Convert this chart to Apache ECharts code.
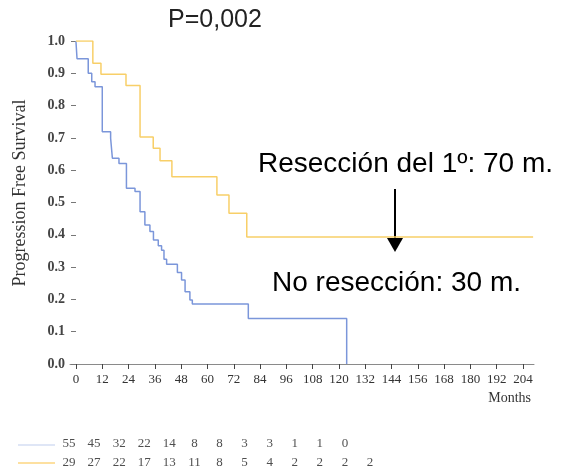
<!DOCTYPE html>
<html><head><meta charset="utf-8">
<script src="https://cdn.jsdelivr.net/npm/echarts@6/dist/echarts.min.js"></script>
<style>html,body{margin:0;padding:0;background:#fff}#c{width:566px;height:469px}</style>
</head><body><div id="c"></div>
<script>
// Kaplan-Meier step points [months, survival]
const noResectionCurve = [[0,1],[0.5,0.945],[5.6,0.90],[7.2,0.874],[8.7,0.858],[12.0,0.719],[15.8,0.699],[16.6,0.637],[19.6,0.621],[23.0,0.544],[26.9,0.534],[29.2,0.471],[31.4,0.43],[33.7,0.41],[35.3,0.384],[37.5,0.366],[39.0,0.352],[40.1,0.324],[41.3,0.309],[46.2,0.283],[48.1,0.26],[49.7,0.224],[51.9,0.198],[53.0,0.186],[78.5,0.141],[123.3,0]];
const resectionCurve = [[0,1],[7.7,0.931],[11.4,0.897],[22.8,0.862],[29.2,0.703],[35.2,0.668],[38.3,0.629],[43.7,0.58],[64.2,0.523],[69.7,0.467],[77.8,0.393],[208.2,0.393]];
const xTicks = [0,12,24,36,48,60,72,84,96,108,120,132,144,156,168,180,192,204];
const yTicks = [0,0.1,0.2,0.3,0.4,0.5,0.6,0.7,0.8,0.9,1.0];
const atRiskNoResection = [55,45,32,22,14,8,8,3,3,1,1,0];
const atRiskResection = [29,27,22,17,13,11,8,5,4,2,2,2,2];
const titleText = 'P=0,002';
const note1 = 'Resección del 1º: 70 m.';
const note2 = 'No resección: 30 m.';
const yName = 'Progression Free Survival';
const xName = 'Months';

const blue = '#7b96da', yellow = '#f8cf68';
const serif = 'Liberation Serif, Times New Roman, serif';
const sans = 'Liberation Sans, Arial, sans-serif';

const chart = echarts.init(document.getElementById('c'), null, {renderer:'canvas'});
function riskData(arr,row){return arr.map((v,i)=>[i,row,v]);}
const riskLabel = {show:true,position:'inside',formatter:p=>String(p.data[2]),fontFamily:serif,fontSize:13,color:'#222'};
chart.setOption({
  animation:false,
  grid:[
    {left:70,right:32,top:41,bottom:105},
    {left:76,right:43,top:41,bottom:105},
    {left:69,right:196,top:444,bottom:6}
  ],
  xAxis:[
    {gridIndex:0,type:'value',min:-2.7,max:208.6,axisLine:{show:true,lineStyle:{color:'#8a8a8a',width:1}},axisTick:{show:false},axisLabel:{show:false},splitLine:{show:false}},
    {gridIndex:1,type:'value',min:xTicks[0],max:xTicks[xTicks.length-1],interval:12,
      axisLine:{show:false},axisTick:{show:true,length:5,lineStyle:{color:'#444'}},
      axisLabel:{show:true,margin:9,fontFamily:serif,fontSize:13,color:'#333'},splitLine:{show:false}},
    {gridIndex:2,type:'value',min:0,max:12,show:false}
  ],
  yAxis:[
    {gridIndex:0,type:'value',min:0,max:1,show:false},
    {gridIndex:1,type:'value',min:yTicks[0],max:yTicks[yTicks.length-1],interval:0.1,
      axisLine:{show:false},axisTick:{show:true,length:5,lineStyle:{color:'#777'}},
      axisLabel:{margin:11,fontFamily:serif,fontSize:14,fontWeight:'bold',color:'#444',formatter:v=>v.toFixed(1)},splitLine:{show:false}},
    {gridIndex:2,type:'value',min:0,max:1,show:false}
  ],
  series:[
    {type:'line',xAxisIndex:0,yAxisIndex:0,step:'end',data:noResectionCurve,symbol:'none',lineStyle:{color:blue,width:1.5}},
    {type:'line',xAxisIndex:0,yAxisIndex:0,step:'end',data:resectionCurve,symbol:'none',lineStyle:{color:yellow,width:1.5}},
    {type:'scatter',xAxisIndex:2,yAxisIndex:2,data:riskData(atRiskNoResection,1),symbolSize:2,itemStyle:{color:'rgba(0,0,0,0)'},label:riskLabel},
    {type:'scatter',xAxisIndex:2,yAxisIndex:2,data:riskData(atRiskResection,0),symbolSize:2,itemStyle:{color:'rgba(0,0,0,0)'},label:riskLabel}
  ],
  graphic:[
    {type:'text',x:215,y:20,style:{text:titleText,font:'25px '+sans,fill:'#222',textAlign:'center',textVerticalAlign:'middle'}},
    {type:'text',style:{text:note1,font:'28px '+sans,fill:'#000',textVerticalAlign:'middle'},x:258,y:164},
    {type:'text',style:{text:note2,font:'28px '+sans,fill:'#000',textVerticalAlign:'middle'},x:272,y:283},
    {type:'line',shape:{x1:395,y1:189,x2:395,y2:240},style:{stroke:'#000',lineWidth:2}},
    {type:'polygon',shape:{points:[[387,238],[403,238],[395,252]]},style:{fill:'#000'}},
    {type:'text',rotation:Math.PI/2,x:20,y:193,style:{text:yName,font:'18px '+serif,fill:'#333',textAlign:'center',textVerticalAlign:'middle'}},
    {type:'text',x:531,y:398,style:{text:xName,font:'14px '+serif,fill:'#333',textAlign:'right',textVerticalAlign:'middle'}},
    {type:'line',shape:{x1:18,y1:445,x2:55,y2:445},style:{stroke:'#dfe6f6',lineWidth:2}},
    {type:'line',shape:{x1:18,y1:463,x2:55,y2:463},style:{stroke:'#fde0a0',lineWidth:2}}
  ]
});
</script></body></html>
